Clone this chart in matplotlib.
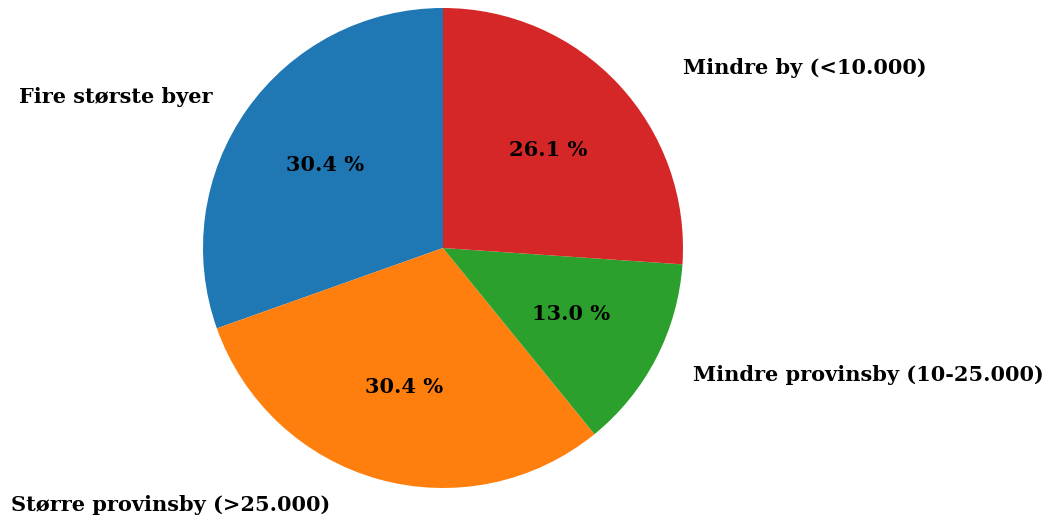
import matplotlib
matplotlib.use("Agg")
import matplotlib.pyplot as plt

# share of respondents by town size (counts out of 23)
categories = ["Fire største byer", "Større provinsby (>25.000)",
              "Mindre provinsby (10-25.000)", "Mindre by (<10.000)"]
counts = [7, 7, 3, 6]
colors = ["#1f77b4", "#ff7f0e", "#2ca02c", "#d62728"]

plt.rcParams['font.family'] = ['DejaVu Serif']
plt.rcParams['font.weight'] = 'bold'

fig = plt.figure(figsize=(10.6, 5.21), dpi=100)
ax = fig.add_axes([0, 0, 1, 1])

wedges, texts, autotexts = ax.pie(
    counts, labels=categories, colors=colors, startangle=90,
    autopct="%1.1f %%", pctdistance=0.6, labeldistance=1.1,
    textprops={'fontsize': 15, 'fontweight': 'bold'})

# nudge outer labels a bit to follow the original layout
label_pos = [(-0.96, 0.63), (-0.47, -1.07), (1.04, -0.53), (1.0, 0.75)]
for t, (x, y) in zip(texts, label_pos):
    t.set_position((x, y))
    t.set_ha('right' if x < 0 else 'left')

# 240 px per unit, pie centre at (443, 248) from top-left
ax.set_xlim(-443 / 240, (1060 - 443) / 240)
ax.set_ylim(-(521 - 248) / 240, 248 / 240)
ax.set_aspect('auto')
ax.axis('off')

fig.savefig("out.png", dpi=100)
